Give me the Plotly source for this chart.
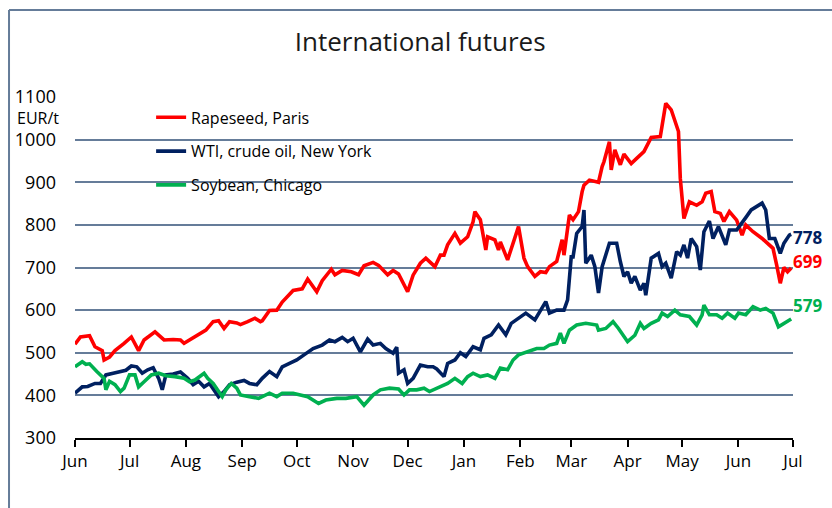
import plotly.graph_objects as go

# ---------------- data ----------------
rapeseed_dates = ["2021-06-01","2021-06-04","2021-06-09","2021-06-12","2021-06-16","2021-06-17","2021-06-20","2021-06-23","2021-06-28",
    "2021-07-02","2021-07-06","2021-07-09","2021-07-15","2021-07-20","2021-07-25","2021-07-29","2021-07-31",
    "2021-08-05","2021-08-09","2021-08-12","2021-08-16","2021-08-19","2021-08-22","2021-08-25","2021-08-29","2021-08-31",
    "2021-09-04","2021-09-08","2021-09-11","2021-09-12","2021-09-16","2021-09-20","2021-09-23","2021-09-29",
    "2021-10-04","2021-10-07","2021-10-12","2021-10-15","2021-10-20","2021-10-22","2021-10-26","2021-10-31",
    "2021-11-04","2021-11-07","2021-11-12","2021-11-15","2021-11-20","2021-11-23","2021-11-26","2021-11-30",
    "2021-12-01","2021-12-04","2021-12-08","2021-12-11","2021-12-16","2021-12-19","2021-12-21","2021-12-23","2021-12-27","2021-12-30",
    "2022-01-03","2022-01-06","2022-01-07","2022-01-10","2022-01-13","2022-01-14","2022-01-18","2022-01-20","2022-01-21","2022-01-25","2022-01-28","2022-01-31",
    "2022-02-03","2022-02-05","2022-02-09","2022-02-12","2022-02-15","2022-02-17","2022-02-21","2022-02-24","2022-02-25","2022-02-28",
    "2022-03-02","2022-03-05","2022-03-07","2022-03-08","2022-03-11","2022-03-16","2022-03-18","2022-03-19","2022-03-22","2022-03-23","2022-03-25","2022-03-28","2022-03-30",
    "2022-04-03","2022-04-06","2022-04-10","2022-04-14","2022-04-19","2022-04-22","2022-04-25","2022-04-29","2022-04-30",
    "2022-05-02","2022-05-05","2022-05-09","2022-05-12","2022-05-14","2022-05-17","2022-05-19","2022-05-22","2022-05-24","2022-05-27","2022-05-31",
    "2022-06-03","2022-06-05","2022-06-09","2022-06-14","2022-06-17","2022-06-20","2022-06-22","2022-06-24","2022-06-26","2022-06-28","2022-06-30"]
rapeseed = [520,537,540,514,505,483,490,505,522,
    537,505,530,549,530,531,530,522,
    534,544,553,573,575,557,573,570,566,
    573,581,573,575,599,600,619,646,
    650,673,643,669,696,683,693,690,
    683,704,712,705,683,693,685,650,
    643,682,710,722,702,729,729,753,780,757,
    772,807,831,812,741,772,765,741,760,718,755,796,
    722,702,679,690,688,702,714,765,729,823,
    812,831,878,893,905,900,937,948,995,929,976,941,966,
    944,956,972,1005,1007,1085,1070,1019,909,
    815,854,846,854,874,878,831,827,808,831,811,
    776,800,784,768,757,745,706,663,700,690,699]

wti_dates = ["2021-06-01","2021-06-05","2021-06-08","2021-06-12","2021-06-15","2021-06-18","2021-06-22","2021-06-26","2021-06-29",
    "2021-07-02","2021-07-05","2021-07-08","2021-07-11","2021-07-14","2021-07-17","2021-07-19","2021-07-21","2021-07-25","2021-07-29",
    "2021-08-02","2021-08-05","2021-08-08","2021-08-11","2021-08-14","2021-08-19","2021-08-22","2021-08-25","2021-08-29",
    "2021-09-02","2021-09-05","2021-09-09","2021-09-12","2021-09-16","2021-09-20","2021-09-23","2021-09-27",
    "2021-10-01","2021-10-05","2021-10-10","2021-10-15","2021-10-19","2021-10-22","2021-10-26","2021-10-29",
    "2021-11-01","2021-11-05","2021-11-09","2021-11-12","2021-11-16","2021-11-19","2021-11-23","2021-11-25","2021-11-26","2021-11-29",
    "2021-12-01","2021-12-04","2021-12-08","2021-12-12","2021-12-15","2021-12-17","2021-12-21","2021-12-23","2021-12-27","2021-12-30",
    "2022-01-02","2022-01-06","2022-01-10","2022-01-12","2022-01-16","2022-01-20","2022-01-24","2022-01-27","2022-01-31",
    "2022-02-04","2022-02-09","2022-02-12","2022-02-15","2022-02-17","2022-02-21","2022-02-25","2022-02-27",
    "2022-03-01","2022-03-02","2022-03-04","2022-03-07","2022-03-08","2022-03-09","2022-03-12","2022-03-14","2022-03-16","2022-03-18","2022-03-22","2022-03-26","2022-03-28","2022-03-30",
    "2022-04-01","2022-04-03","2022-04-05","2022-04-08","2022-04-10","2022-04-11","2022-04-14","2022-04-18","2022-04-20","2022-04-22","2022-04-25","2022-04-28","2022-04-30",
    "2022-05-02","2022-05-04","2022-05-06","2022-05-09","2022-05-11","2022-05-13","2022-05-16","2022-05-18","2022-05-21","2022-05-25","2022-05-27","2022-05-31",
    "2022-06-03","2022-06-05","2022-06-08","2022-06-11","2022-06-14","2022-06-16","2022-06-18","2022-06-21","2022-06-24","2022-06-26","2022-06-29","2022-06-30"]
wti = [405,420,421,428,428,448,452,455,459,
    469,467,452,460,465,440,413,448,450,455,
    440,425,433,420,428,397,409,425,431,
    435,428,425,440,456,444,467,475,
    483,495,510,518,530,526,536,526,
    534,502,532,518,522,510,499,513,452,460,
    428,440,471,467,467,462,444,475,483,500,
    491,514,507,534,542,565,542,569,581,
    593,577,600,620,593,600,600,624,
    725,725,780,796,835,710,729,702,640,702,757,757,714,679,
    690,663,679,647,663,635,722,733,702,710,675,737,729,
    753,722,768,749,694,784,809,768,796,753,788,788,
    804,817,835,843,851,835,768,768,733,757,776,778]

soy_dates = ["2021-06-01","2021-06-05","2021-06-07","2021-06-09","2021-06-13","2021-06-17","2021-06-18","2021-06-20","2021-06-23","2021-06-26","2021-06-28",
    "2021-07-01","2021-07-04","2021-07-06","2021-07-09","2021-07-13","2021-07-17","2021-07-21","2021-07-26","2021-07-31",
    "2021-08-03","2021-08-06","2021-08-11","2021-08-13","2021-08-16","2021-08-19","2021-08-21","2021-08-23","2021-08-26","2021-08-29","2021-08-31",
    "2021-09-05","2021-09-10","2021-09-16","2021-09-20","2021-09-23","2021-09-29",
    "2021-10-03","2021-10-07","2021-10-13","2021-10-17","2021-10-23","2021-10-28",
    "2021-11-03","2021-11-07","2021-11-12","2021-11-16","2021-11-21","2021-11-26","2021-11-29",
    "2021-12-02","2021-12-06","2021-12-10","2021-12-13","2021-12-19","2021-12-23","2021-12-27","2021-12-31",
    "2022-01-03","2022-01-06","2022-01-10","2022-01-14","2022-01-18","2022-01-21","2022-01-25","2022-01-28","2022-01-31",
    "2022-02-05","2022-02-10","2022-02-14","2022-02-17","2022-02-21","2022-02-23","2022-02-25","2022-02-28",
    "2022-03-04","2022-03-09","2022-03-15","2022-03-16","2022-03-20","2022-03-24","2022-03-27",
    "2022-04-01","2022-04-05","2022-04-08","2022-04-10","2022-04-14","2022-04-18","2022-04-20","2022-04-23","2022-04-27","2022-04-30",
    "2022-05-05","2022-05-09","2022-05-12","2022-05-13","2022-05-16","2022-05-20","2022-05-23","2022-05-26","2022-05-30",
    "2022-06-01","2022-06-05","2022-06-09","2022-06-13","2022-06-16","2022-06-20","2022-06-23","2022-06-26","2022-06-30"]
soy = [467,479,473,474,456,440,413,433,425,409,417,
    448,448,420,432,448,452,446,444,440,
    432,436,452,440,428,409,397,413,428,417,401,
    397,393,405,397,405,405,
    401,397,381,389,393,393,
    397,377,401,413,417,415,401,
    413,413,417,409,420,428,440,428,
    444,452,444,448,440,464,460,483,495,
    502,510,510,518,522,546,522,553,
    565,569,565,553,557,573,557,
    526,541,569,557,569,577,593,585,600,589,
    585,565,589,612,589,589,581,593,581,
    593,589,608,600,604,593,561,569,579]

month_ticks = ["2021-06-01","2021-07-01","2021-08-01","2021-09-01","2021-10-01","2021-11-01","2021-12-01",
               "2022-01-01","2022-02-01","2022-03-01","2022-04-01","2022-05-01","2022-06-01","2022-07-01"]
month_labels = ["Jun","Jul","Aug","Sep","Oct","Nov","Dec","Jan","Feb","Mar","Apr","May","Jun","Jul"]

series_names = ["Rapeseed, Paris", "WTI, crude oil, New York", "Soybean, Chicago"]
colors = ["#FF0000", "#002060", "#00B050"]

FONT = "Open Sans"
GRID = "#657C99"

fig = go.Figure()
for i, (name, xs, ys) in enumerate(zip(series_names,
                                       [rapeseed_dates, wti_dates, soy_dates],
                                       [rapeseed, wti, soy])):
    fig.add_trace(go.Scatter(x=xs, y=ys, mode="lines", name=name,
                             legendgroup=f"g{i}",
                             line=dict(color=colors[i], width=3.6)))

# end-value labels (index: rapeseed, wti, soybean)
end_shift = [6, -3, 14]
for i, ys, xs in [(1, wti, wti_dates), (0, rapeseed, rapeseed_dates), (2, soy, soy_dates)]:
    fig.add_annotation(x=xs[-1], y=ys[-1], text=str(ys[-1]), showarrow=False,
                       xanchor="left", yanchor="middle", xshift=0, yshift=end_shift[i],
                       font=dict(family=FONT, size=17, color=colors[i], weight="bold"))

# white box behind legend (hides gridlines there)
fig.add_shape(type="rect", xref="paper", yref="paper", x0=0.024, x1=0.539, y0=0.655, y1=0.986,
              fillcolor="white", line=dict(width=0), layer="between")

# outer frame lines (left and top)
fig.add_shape(type="line", xref="paper", yref="paper", x0=-0.0919, x1=-0.0919, y0=-0.3, y1=1.255,
              line=dict(color=GRID, width=2))
fig.add_shape(type="line", xref="paper", yref="paper", x0=-0.0919, x1=1.1, y0=1.255, y1=1.255,
              line=dict(color=GRID, width=2))

fig.add_annotation(xref="paper", yref="paper", x=-0.083, y=0.937, text="EUR/t", showarrow=False,
                   xanchor="left", yanchor="middle", font=dict(family=FONT, size=16, color="black"))

fig.update_layout(
    width=832, height=508,
    margin=dict(l=75, r=39, t=97, b=70),
    paper_bgcolor="white", plot_bgcolor="white",
    title=dict(text="International futures", x=0.505, xanchor="center", y=0.917, yanchor="middle",
               font=dict(family=FONT, size=26, color="#1a1a1a", weight=400)),
    font=dict(family=FONT, size=17, color="black"),
    showlegend=True,
    legend=dict(x=0.106, y=0.99, xanchor="left", yanchor="top", bgcolor="rgba(0,0,0,0)",
                font=dict(family=FONT, size=16, color="black"), tracegroupgap=10,
                itemwidth=30),
)
fig.update_xaxes(range=["2021-06-01", "2022-07-01"], tickvals=month_ticks, ticktext=month_labels,
                 showgrid=False, showline=True, linecolor="black", linewidth=1.5,
                 ticks="outside", ticklen=7, tickwidth=1.5, tickcolor="black", automargin=False,
                 tickfont=dict(family=FONT, size=17, color="black"), zeroline=False)
fig.update_yaxes(range=[300, 1100], dtick=100, showgrid=True, gridcolor=GRID, gridwidth=1.5,
                 showline=False, zeroline=False, ticks="", ticklabelstandoff=18, automargin=False,
                 tickfont=dict(family=FONT, size=18, color="black"))

fig.write_html("out.html", config={"displayModeBar": False},
               post_script="document.body.style.margin='0';")
